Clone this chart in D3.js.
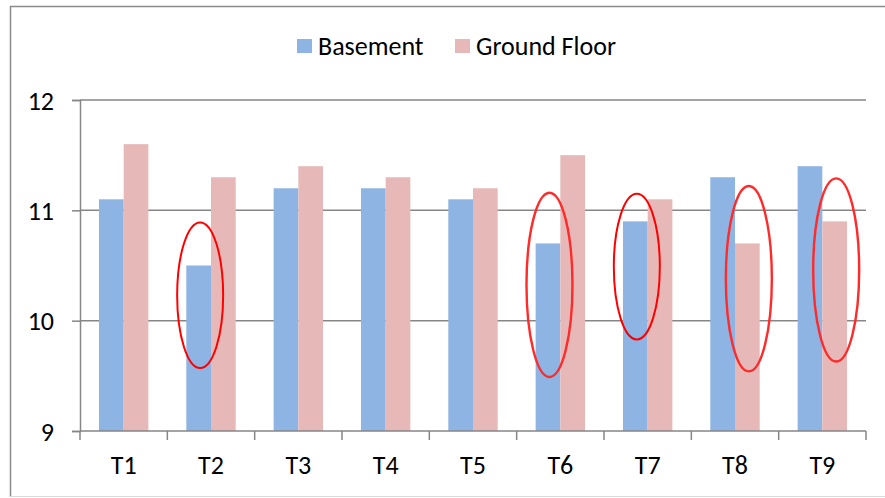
<!DOCTYPE html>
<html>
<head>
<meta charset="utf-8">
<script src="https://cdn.jsdelivr.net/npm/d3@7"></script>
<style>
  html, body { margin: 0; padding: 0; background: #fff; }
  svg { display: block; }
  text { font-family: Carlito, Lato, "Open Sans", sans-serif; fill: #000; }
</style>
</head>
<body>
<svg id="chart" width="885" height="498"></svg>
<script>
// Room temperature readings per test point
const categories = ["T1", "T2", "T3", "T4", "T5", "T6", "T7", "T8", "T9"];
const seriesNames = ["Basement", "Ground Floor"];
const basement    = [11.1, 10.5, 11.2, 11.2, 11.1, 10.7, 10.9, 11.3, 11.4];
const groundFloor = [11.6, 11.3, 11.4, 11.3, 11.2, 11.5, 11.1, 10.7, 10.9];
const yTicks = [9, 10, 11, 12];

// Highlighted readings: category, series, vertical extent of the ring (data units), soft edge
const highlightCat    = ["T2", "T6", "T7", "T8", "T9"];
const highlightSeries = ["Basement", "Basement", "Basement", "Ground Floor", "Ground Floor"];
const highlightTop    = [10.89, 11.16, 11.15, 11.22, 11.29];
const highlightBottom = [9.57, 9.49, 9.83, 9.54, 9.63];
const highlightSoft   = [false, true, false, true, true];

const colors = { "Basement": "#8EB4E3", "Ground Floor": "#E6B9B8" };
const gridColor = "#868686";
const fontSize = 26;

const svg = d3.select("#chart");

// Outer frame
svg.append("path")
  .attr("d", "M10.5,497 L10.5,6.5 L885,6.5")
  .attr("fill", "none").attr("stroke", "#8c8c8c").attr("stroke-width", 1.5);
svg.append("line")
  .attr("x1", 10).attr("x2", 885).attr("y1", 496.5).attr("y2", 496.5)
  .attr("stroke", "#d9d9d9").attr("stroke-width", 1);

const plot = { left: 80, right: 866, top: 100, bottom: 431 };

const x0 = d3.scaleBand().domain(categories).range([plot.left, plot.right]).padding(0);
const groupW = 49.4;
const x1 = d3.scaleBand().domain(seriesNames)
  .range([(x0.bandwidth() - groupW) / 2, (x0.bandwidth() + groupW) / 2]).padding(0);
const y = d3.scaleLinear().domain([9, 12]).range([plot.bottom, plot.top]);

// Gridlines
svg.append("g").selectAll("line").data(yTicks.filter(t => t > 9)).join("line")
  .attr("x1", plot.left).attr("x2", plot.right)
  .attr("y1", d => y(d)).attr("y2", d => y(d))
  .attr("stroke", gridColor).attr("stroke-width", 1.5);

// Bars
const rows = categories.map((c, i) => ({ cat: c, values: [
  { series: "Basement", value: basement[i] },
  { series: "Ground Floor", value: groundFloor[i] }
]}));

svg.append("g").selectAll("g").data(rows).join("g")
  .attr("transform", d => `translate(${x0(d.cat)},0)`)
  .selectAll("rect").data(d => d.values).join("rect")
  .attr("x", d => x1(d.series))
  .attr("width", x1.bandwidth())
  .attr("y", d => y(d.value))
  .attr("height", d => y(9) - y(d.value))
  .attr("fill", d => colors[d.series]);

// Y axis
const yAxis = svg.append("g").attr("transform", `translate(${plot.left},0)`)
  .call(d3.axisLeft(y).tickValues(yTicks).tickFormat(d3.format("d")).tickSize(8).tickPadding(18));
yAxis.select(".domain").attr("stroke", gridColor).attr("stroke-width", 1.5);
yAxis.selectAll(".tick line").attr("stroke", gridColor).attr("stroke-width", 1.5);
yAxis.selectAll(".tick text").attr("font-size", fontSize).attr("font-family", null).attr("dy", "0.35em");

// X axis with boundary ticks between categories
const xAxis = svg.append("g").attr("transform", `translate(0,${plot.bottom})`);
xAxis.append("line").attr("x1", plot.left).attr("x2", plot.right)
  .attr("stroke", gridColor).attr("stroke-width", 1.5);
const bounds = categories.map(c => x0(c)).concat([x0(categories[categories.length - 1]) + x0.bandwidth()]);
xAxis.selectAll("line.bound").data(bounds).join("line").attr("class", "bound")
  .attr("x1", d => d).attr("x2", d => d).attr("y1", 0).attr("y2", 9)
  .attr("stroke", gridColor).attr("stroke-width", 1.5);
xAxis.selectAll("text").data(categories).join("text")
  .attr("x", d => x0(d) + x0.bandwidth() / 2).attr("y", 43)
  .attr("text-anchor", "middle").attr("font-size", fontSize).text(d => d);

// Highlight rings
const defs = svg.append("defs");
defs.append("filter").attr("id", "soft").attr("x", "-20%").attr("y", "-20%").attr("width", "140%").attr("height", "140%")
  .append("feGaussianBlur").attr("stdDeviation", 0.7);

svg.append("g").selectAll("ellipse").data(highlightCat.map((c, i) => i)).join("ellipse")
  .attr("cx", i => x0(highlightCat[i]) + x1(highlightSeries[i]) + x1.bandwidth() / 2 + 1.5)
  .attr("cy", i => (y(highlightTop[i]) + y(highlightBottom[i])) / 2)
  .attr("rx", 23)
  .attr("ry", i => (y(highlightBottom[i]) - y(highlightTop[i])) / 2)
  .attr("fill", "none")
  .attr("stroke", i => highlightSoft[i] ? "#ff2a2a" : "#ff0000")
  .attr("stroke-width", i => highlightSoft[i] ? 2.4 : 2)
  .attr("filter", i => highlightSoft[i] ? "url(#soft)" : null);

// Legend
const legend = svg.append("g");
const legendX = [297, 455];
seriesNames.forEach((s, i) => {
  legend.append("rect").attr("x", legendX[i]).attr("y", 39).attr("width", 15).attr("height", 14)
    .attr("fill", colors[s]);
  legend.append("text").attr("x", legendX[i] + 21).attr("y", 55).attr("font-size", fontSize).text(s);
});
</script>
</body>
</html>
